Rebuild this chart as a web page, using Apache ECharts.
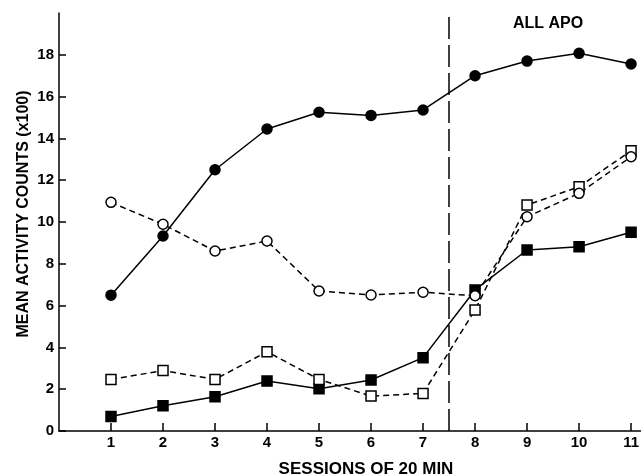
<!DOCTYPE html>
<html>
<head>
<meta charset="utf-8">
<script src="https://cdn.jsdelivr.net/npm/echarts@6/dist/echarts.min.js"></script>
<style>html,body{margin:0;padding:0;background:#fff}#c{width:642px;height:476px}</style>
</head>
<body>
<div id="c"></div>
<script>
const sessions = [1, 2, 3, 4, 5, 6, 7, 8, 9, 10, 11];
const filledCircle = [6.5, 9.33, 12.5, 14.45, 15.25, 15.1, 15.36, 17.0, 17.7, 18.07, 17.56];
const openCircle = [10.94, 9.89, 8.61, 9.09, 6.7, 6.51, 6.64, 6.47, 10.25, 11.37, 13.12];
const openSquare = [2.47, 2.89, 2.47, 3.79, 2.47, 1.67, 1.8, 5.79, 10.81, 11.69, 13.41];
const filledSquare = [0.69, 1.21, 1.64, 2.39, 2.02, 2.44, 3.51, 6.75, 8.66, 8.82, 9.51];
const yTicks = [0, 2, 4, 6, 8, 10, 12, 14, 16, 18];
const drugLine = 7.5;
const annotation = 'ALL APO';
const xTitle = 'SESSIONS OF 20 MIN';
const yTitle = 'MEAN ACTIVITY COUNTS (x100)';

const pairs = arr => sessions.map((s, i) => [s, arr[i]]);
const font = '"Liberation Sans", Arial, sans-serif';

function mk(name, arr, symbol, filled, dashed) {
  return {
    name, type: 'line', data: pairs(arr), symbol, symbolSize: 10,
    lineStyle: { color: '#000', width: 1.5, type: dashed ? [6, 4] : 'solid' },
    itemStyle: { color: filled ? '#000' : '#fff', borderColor: '#000', borderWidth: 1.5 },
    emphasis: { disabled: true }, animation: false
  };
}

const series = [
  mk('filledSquare', filledSquare, 'rect', true, false),
  mk('openSquare', openSquare, 'rect', false, true),
  mk('openCircle', openCircle, 'circle', false, true),
  mk('filledCircle', filledCircle, 'circle', true, false)
];
series[0].markLine = {
  silent: true, symbol: 'none', label: { show: false },
  lineStyle: { color: '#000', width: 1.5, type: [22, 6] },
  data: [{ xAxis: drugLine }]
};

const chart = echarts.init(document.getElementById('c'));
chart.setOption({
  animation: false,
  grid: { left: 59, right: 0, top: 13, bottom: 45 },
  xAxis: {
    type: 'value', min: 0, max: 11.18,
    axisLine: { lineStyle: { color: '#000', width: 1.5 } },
    axisTick: { inside: true, length: 8, lineStyle: { color: '#000', width: 1.5 }, customValues: sessions },
    axisLabel: { customValues: sessions, margin: 4, color: '#000', fontFamily: font, fontWeight: 'bold', fontSize: 15 },
    splitLine: { show: false }
  },
  yAxis: {
    type: 'value', min: 0, max: 20, interval: 2,
    axisLine: { show: true, lineStyle: { color: '#000', width: 1.5 } },
    axisTick: { show: true, inside: true, length: 7, lineStyle: { color: '#000', width: 1.5 }, customValues: yTicks },
    axisLabel: { customValues: yTicks, margin: 5, color: '#000', fontFamily: font, fontWeight: 'bold', fontSize: 15 },
    splitLine: { show: false }
  },
  series,
  graphic: [
    { type: 'text', x: 513, y: 24, style: { text: annotation, font: 'bold 16px ' + font, fill: '#000', verticalAlign: 'middle' } },
    { type: 'text', x: 366, y: 469, style: { text: xTitle, font: 'bold 17px ' + font, fill: '#000', align: 'center', verticalAlign: 'middle' } },
    { type: 'text', x: 24, y: 214, rotation: Math.PI / 2, style: { text: yTitle, font: 'bold 16px ' + font, fill: '#000', align: 'center', verticalAlign: 'middle' } }
  ]
});
</script>
</body>
</html>
